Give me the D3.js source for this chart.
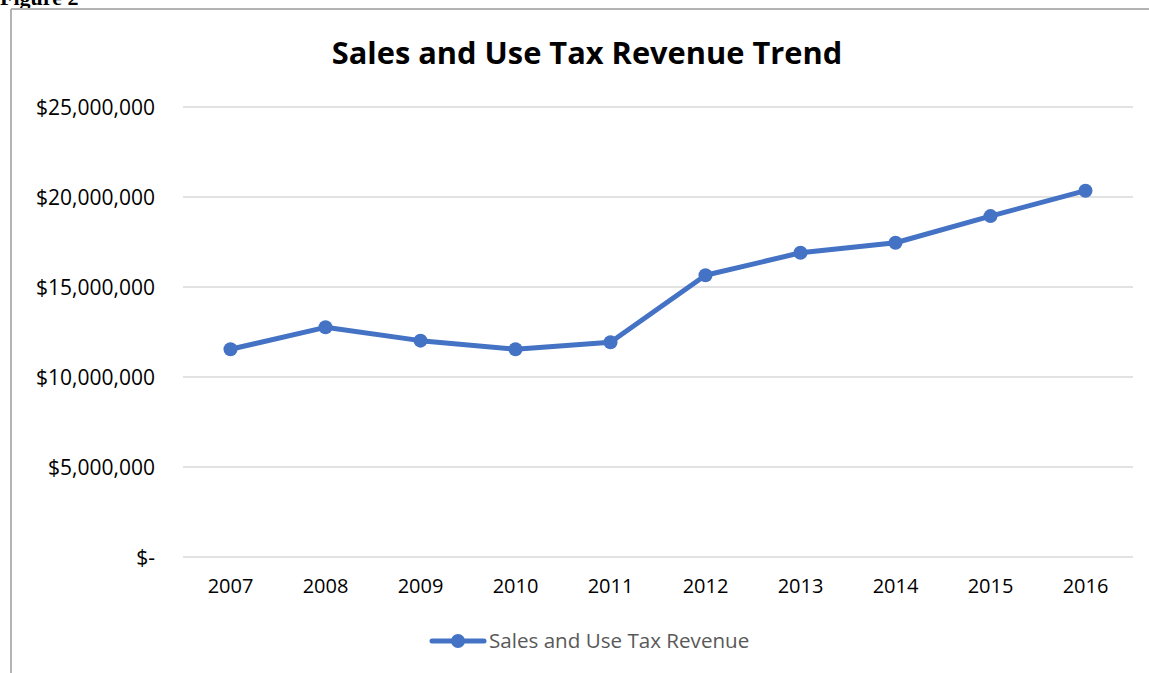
<!DOCTYPE html>
<html>
<head>
<meta charset="utf-8">
<script src="https://cdn.jsdelivr.net/npm/d3@7"></script>
<style>
  html, body { margin: 0; padding: 0; background: #fff; }
  svg { display: block; }
</style>
</head>
<body>
<svg id="chart" width="1149" height="673"></svg>
<script>
// Annual sales and use tax revenue, in dollars
const years = ["2007", "2008", "2009", "2010", "2011", "2012", "2013", "2014", "2015", "2016"];
const revenue = [11540000, 12760000, 12020000, 11540000, 11930000, 15650000, 16900000, 17460000, 18940000, 20350000];
const yTicks = [0, 5000000, 10000000, 15000000, 20000000, 25000000];
const seriesName = "Sales and Use Tax Revenue";
const chartTitle = "Sales and Use Tax Revenue Trend";

const svg = d3.select("#chart");
const font = "'Open Sans', 'Noto Sans', sans-serif";
const blue = "#4472C4";

// page caption above the chart frame, running off the top edge
svg.append("text")
  .attr("x", 0).attr("y", 5)
  .attr("font-family", "'Liberation Serif', 'DejaVu Serif', serif")
  .attr("font-weight", "bold")
  .attr("font-size", 22)
  .attr("fill", "#000")
  .text("Figure 2");

// chart frame (left and top edges visible)
svg.append("line").attr("x1", 11).attr("x2", 11).attr("y1", 9).attr("y2", 673)
  .attr("stroke", "#b3b3b3").attr("stroke-width", 2);
svg.append("line").attr("x1", 11).attr("x2", 1149).attr("y1", 9).attr("y2", 9)
  .attr("stroke", "#b3b3b3").attr("stroke-width", 2);

const plot = { left: 183, right: 1133, top: 107, bottom: 557 };

const x = d3.scaleBand().domain(years).range([plot.left, plot.right]);
const y = d3.scaleLinear().domain([0, 25000000]).range([plot.bottom, plot.top]);

// title
svg.append("text")
  .attr("x", 587).attr("y", 64)
  .attr("text-anchor", "middle")
  .attr("font-family", font)
  .attr("font-weight", "bold")
  .attr("font-size", 30.8)
  .attr("fill", "#000")
  .text(chartTitle);

// horizontal gridlines
svg.append("g")
  .selectAll("line")
  .data(yTicks)
  .join("line")
  .attr("x1", plot.left).attr("x2", plot.right)
  .attr("y1", d => y(d)).attr("y2", d => y(d))
  .attr("stroke", "#d9d9d9").attr("stroke-width", 1.5);

// y axis labels in accounting format
const fmt = d => d === 0 ? "$-" : "$" + d3.format(",")(d);
const yAxis = d3.axisLeft(y).tickValues(yTicks).tickFormat(fmt).tickSize(0).tickPadding(28);
const gy = svg.append("g").attr("transform", `translate(${plot.left},0)`).call(yAxis);
gy.select(".domain").remove();
gy.selectAll("text")
  .attr("font-family", font).attr("font-size", 21).attr("fill", "#000")
  .attr("dy", "0.35em");

// x axis labels
const xAxis = d3.axisBottom(x).tickSize(0).tickPadding(22);
const gx = svg.append("g").attr("transform", `translate(0,${plot.bottom})`).call(xAxis);
gx.select(".domain").remove();
gx.selectAll("text")
  .attr("font-family", font).attr("font-size", 20).attr("fill", "#000");

// series line and markers
const pts = years.map((yr, i) => ({ yr, v: revenue[i] }));
const line = d3.line().x(d => x(d.yr) + x.bandwidth() / 2).y(d => y(d.v));
svg.append("path")
  .datum(pts)
  .attr("d", line)
  .attr("fill", "none")
  .attr("stroke", blue)
  .attr("stroke-width", 5)
  .attr("stroke-linejoin", "round")
  .attr("stroke-linecap", "round");
svg.append("g")
  .selectAll("circle")
  .data(pts)
  .join("circle")
  .attr("cx", d => x(d.yr) + x.bandwidth() / 2)
  .attr("cy", d => y(d.v))
  .attr("r", 7)
  .attr("fill", blue);

// legend
const lg = svg.append("g").attr("transform", "translate(0,641)");
lg.append("line").attr("x1", 432).attr("x2", 484).attr("y1", 0).attr("y2", 0)
  .attr("stroke", blue).attr("stroke-width", 5).attr("stroke-linecap", "round");
lg.append("circle").attr("cx", 458).attr("cy", 0).attr("r", 7).attr("fill", blue);
lg.append("text")
  .attr("x", 489).attr("y", 0).attr("dy", "0.35em")
  .attr("font-family", font).attr("font-size", 20.6).attr("fill", "#595959")
  .text(seriesName);
</script>
</body>
</html>
